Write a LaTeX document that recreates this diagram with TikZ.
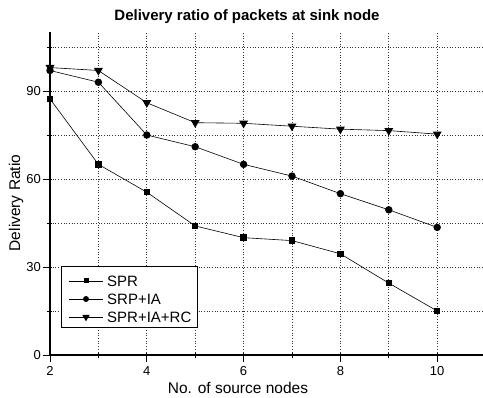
\documentclass[tikz,border=0pt]{standalone}
\usepackage{fontspec}
\setmainfont{Liberation Sans}
\usetikzlibrary{shapes.geometric}
\begin{document}
\begin{tikzpicture}[x=1pt,y=1pt,
  gridline/.style={dotted,line width=0.7pt,black!80},
  axisline/.style={line width=1.1pt,black},
  dataline/.style={line width=0.6pt,black},
  ticklab/.style={font=\fontsize{13}{13}\selectfont,inner sep=0pt},
  sqm/.style={rectangle,fill=black,minimum size=6.5pt,inner sep=0pt},
  cim/.style={circle,fill=black,minimum size=7.5pt,inner sep=0pt},
  trm/.style={isosceles triangle,isosceles triangle apex angle=60,shape border rotate=-90,fill=black,minimum height=7pt,minimum width=9pt,inner sep=0pt},
  legtext/.style={font=\fontsize{15}{15}\selectfont,anchor=west,inner sep=0pt},
]
\useasboundingbox (0,0) rectangle (483,398);
\node[font=\bfseries\fontsize{15}{15}\selectfont] (title) at (247,381) {Delivery ratio of packets at sink node};
\node[font=\fontsize{15.5}{15.5}\selectfont] (xlab) at (238,10) {No. of source nodes};
\node[font=\fontsize{15.5}{15.5}\selectfont,rotate=90] (ylab) at (16,195) {Delivery Ratio};
\begin{scope}[shift={(-46.8pt,43pt)},x=48.4pt,y=2.933pt]
  % grid
  \foreach \v in {3,...,10} \draw[gridline] (\v,0) -- (\v,110);
  \foreach \h in {15,30,...,105} \draw[gridline] (2,\h) -- (10.95,\h);
  % axes
  \draw[axisline] (2,0) -- (2,110);
  \draw[axisline] (2,0) -- (10.95,0);
  % ticks
  \foreach \h in {0,30,60,90} {
    \draw[line width=0.8pt] ([xshift=-7pt]2,\h) -- ([xshift=1.5pt]2,\h);
    \node[ticklab,anchor=east] (yl\h) at ([xshift=-9pt]2,\h) {\h};
  }
  \foreach \h in {15,45,75,105} \draw[line width=0.8pt] ([xshift=-3.5pt]2,\h) -- ([xshift=1.5pt]2,\h);
  \foreach \v in {2,4,6,8,10} {
    \draw[line width=0.8pt] ([yshift=-7pt]\v,0) -- ([yshift=1.5pt]\v,0);
    \node[ticklab,anchor=north] (xl\v) at ([yshift=-11pt]\v,0) {\v};
  }
  \foreach \v in {3,5,7,9} \draw[line width=0.8pt] ([yshift=-3.5pt]\v,0) -- ([yshift=1.5pt]\v,0);
  % data
  \draw[dataline] (2,87.3) -- (3,65) -- (4,55.5) -- (5,44) -- (6,40) -- (7,39) -- (8,34.5) -- (9,24.5) -- (10,15);
  \draw[dataline] (2,97) -- (3,93) -- (4,75) -- (5,71) -- (6,65) -- (7,61) -- (8,55) -- (9,49.5) -- (10,43.5);
  \draw[dataline] (2,98) -- (3,97) -- (4,86) -- (5,79.2) -- (6,79) -- (7,78) -- (8,77) -- (9,76.5) -- (10,75.3);
  \foreach \x/\y [count=\i] in {2/87.3,3/65,4/55.5,5/44,6/40,7/39,8/34.5,9/24.5,10/15}
    \node[sqm] (a\i) at (\x,\y) {};
  \foreach \x/\y [count=\i] in {2/97,3/93,4/75,5/71,6/65,7/61,8/55,9/49.5,10/43.5}
    \node[cim] (b\i) at (\x,\y) {};
  \foreach \x/\y [count=\i] in {2/98,3/97,4/86,5/79.2,6/79,7/78,8/77,9/76.5,10/75.3}
    \node[trm] (c\i) at (\x,\y) {};
\end{scope}
% legend (pixel coords: y_tikz = 398 - y_px)
\draw[line width=0.8pt,fill=white] (61,132) rectangle (197,71);
\draw[dataline] (69,117) -- (103,117);
\node[sqm,minimum size=5pt] (l1) at (86,117) {};
\node[legtext] (t1) at (107,117) {SPR};
\draw[dataline] (69,99) -- (103,99);
\node[cim,minimum size=6pt] (l2) at (86,99) {};
\node[legtext] (t2) at (107,99) {SRP+IA};
\draw[dataline] (69,81) -- (103,81);
\node[trm,minimum height=6pt,minimum width=7.5pt] (l3) at (86,81) {};
\node[legtext] (t3) at (107,81) {SPR+IA+RC};
\end{tikzpicture}
\end{document}
